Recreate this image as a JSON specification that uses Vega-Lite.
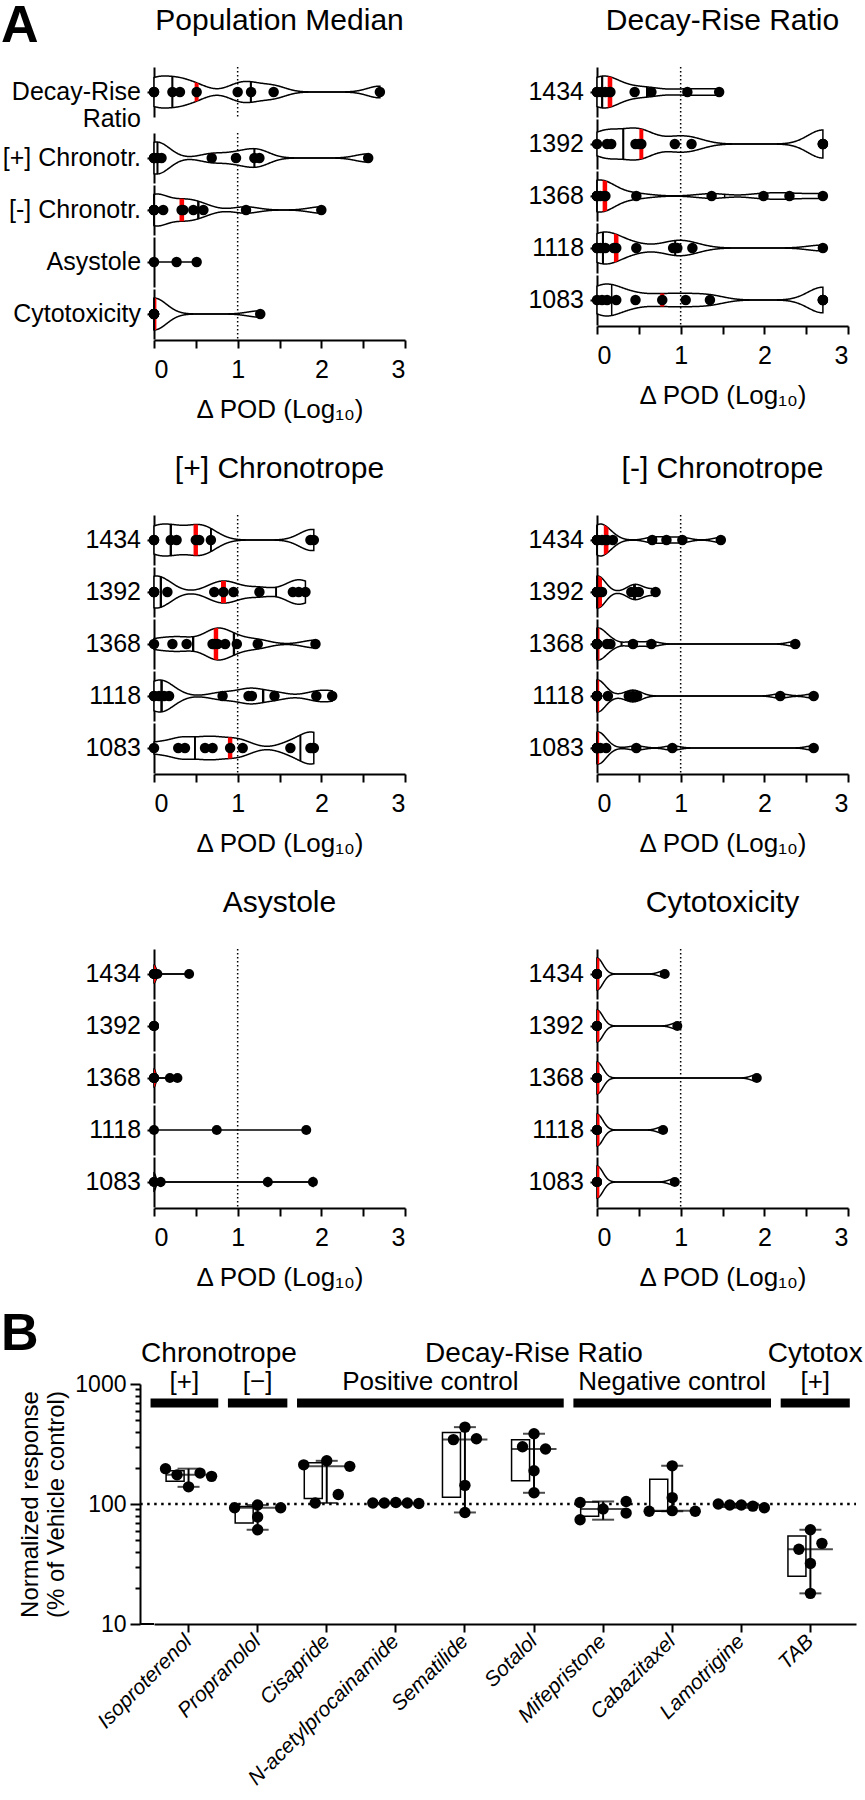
{
  "$schema": "https://vega.github.io/schema/vega-lite/v6.json",
  "padding": 0,
  "background": "white",
  "config": {
    "font": "Liberation Sans, Arial, sans-serif",
    "view": {"stroke": null},
    "axis": {"domainColor": "black", "domainWidth": 2, "tickColor": "black", "tickWidth": 2, "tickSize": 8, "labelColor": "black", "labelFontSize": 25, "titleColor": "black", "titleFontSize": 26, "titleFontWeight": "normal", "grid": false, "labelPadding": 9, "titlePadding": 14},
    "text": {"font": "Liberation Sans, Arial, sans-serif", "color": "black"}
  },
  "datasets": {
    "pm": [
      {"line": "Decay-Rise Ratio", "pod": 0}, {"line": "Decay-Rise Ratio", "pod": 0}, {"line": "Decay-Rise Ratio", "pod": 0.22}, {"line": "Decay-Rise Ratio", "pod": 0.31}, {"line": "Decay-Rise Ratio", "pod": 0.51}, {"line": "Decay-Rise Ratio", "pod": 1.0}, {"line": "Decay-Rise Ratio", "pod": 1.16}, {"line": "Decay-Rise Ratio", "pod": 1.43}, {"line": "Decay-Rise Ratio", "pod": 2.7},
      {"line": "[+] Chronotr.", "pod": 0}, {"line": "[+] Chronotr.", "pod": 0}, {"line": "[+] Chronotr.", "pod": 0.04}, {"line": "[+] Chronotr.", "pod": 0.09}, {"line": "[+] Chronotr.", "pod": 0.69}, {"line": "[+] Chronotr.", "pod": 0.98}, {"line": "[+] Chronotr.", "pod": 1.2}, {"line": "[+] Chronotr.", "pod": 1.26}, {"line": "[+] Chronotr.", "pod": 2.56},
      {"line": "[-] Chronotr.", "pod": 0}, {"line": "[-] Chronotr.", "pod": 0}, {"line": "[-] Chronotr.", "pod": 0}, {"line": "[-] Chronotr.", "pod": 0}, {"line": "[-] Chronotr.", "pod": 0.11}, {"line": "[-] Chronotr.", "pod": 0.33}, {"line": "[-] Chronotr.", "pod": 0.35}, {"line": "[-] Chronotr.", "pod": 0.47}, {"line": "[-] Chronotr.", "pod": 0.59}, {"line": "[-] Chronotr.", "pod": 1.1}, {"line": "[-] Chronotr.", "pod": 2.0},
      {"line": "Asystole", "pod": 0}, {"line": "Asystole", "pod": 0.27}, {"line": "Asystole", "pod": 0.51},
      {"line": "Cytotoxicity", "pod": 0}, {"line": "Cytotoxicity", "pod": 0}, {"line": "Cytotoxicity", "pod": 0}, {"line": "Cytotoxicity", "pod": 0}, {"line": "Cytotoxicity", "pod": 0}, {"line": "Cytotoxicity", "pod": 1.27}
    ],
    "dr": [
      {"line": "1434", "pod": 0}, {"line": "1434", "pod": 0}, {"line": "1434", "pod": 0.05}, {"line": "1434", "pod": 0.1}, {"line": "1434", "pod": 0.15}, {"line": "1434", "pod": 0.16}, {"line": "1434", "pod": 0.45}, {"line": "1434", "pod": 0.65}, {"line": "1434", "pod": 1.08}, {"line": "1434", "pod": 1.46},
      {"line": "1392", "pod": 0}, {"line": "1392", "pod": 0.12}, {"line": "1392", "pod": 0.17}, {"line": "1392", "pod": 0.46}, {"line": "1392", "pod": 0.5}, {"line": "1392", "pod": 0.53}, {"line": "1392", "pod": 0.93}, {"line": "1392", "pod": 1.13}, {"line": "1392", "pod": 2.7}, {"line": "1392", "pod": 2.7}, {"line": "1392", "pod": 2.7},
      {"line": "1368", "pod": 0}, {"line": "1368", "pod": 0}, {"line": "1368", "pod": 0}, {"line": "1368", "pod": 0}, {"line": "1368", "pod": 0.04}, {"line": "1368", "pod": 0.09}, {"line": "1368", "pod": 0.1}, {"line": "1368", "pod": 0.47}, {"line": "1368", "pod": 1.37}, {"line": "1368", "pod": 1.99}, {"line": "1368", "pod": 2.3}, {"line": "1368", "pod": 2.7},
      {"line": "1118", "pod": 0}, {"line": "1118", "pod": 0}, {"line": "1118", "pod": 0.04}, {"line": "1118", "pod": 0.1}, {"line": "1118", "pod": 0.2}, {"line": "1118", "pod": 0.23}, {"line": "1118", "pod": 0.47}, {"line": "1118", "pod": 0.91}, {"line": "1118", "pod": 0.96}, {"line": "1118", "pod": 1.14}, {"line": "1118", "pod": 2.7},
      {"line": "1083", "pod": 0}, {"line": "1083", "pod": 0.06}, {"line": "1083", "pod": 0.12}, {"line": "1083", "pod": 0.23}, {"line": "1083", "pod": 0.46}, {"line": "1083", "pod": 0.78}, {"line": "1083", "pod": 1.06}, {"line": "1083", "pod": 1.35}, {"line": "1083", "pod": 2.7}, {"line": "1083", "pod": 2.7}, {"line": "1083", "pod": 2.7}
    ],
    "pc": [
      {"line": "1434", "pod": 0}, {"line": "1434", "pod": 0}, {"line": "1434", "pod": 0.2}, {"line": "1434", "pod": 0.27}, {"line": "1434", "pod": 0.5}, {"line": "1434", "pod": 0.54}, {"line": "1434", "pod": 0.68}, {"line": "1434", "pod": 1.87}, {"line": "1434", "pod": 1.91},
      {"line": "1392", "pod": 0}, {"line": "1392", "pod": 0}, {"line": "1392", "pod": 0}, {"line": "1392", "pod": 0.16}, {"line": "1392", "pod": 0.72}, {"line": "1392", "pod": 0.83}, {"line": "1392", "pod": 0.95}, {"line": "1392", "pod": 1.26}, {"line": "1392", "pod": 1.66}, {"line": "1392", "pod": 1.73}, {"line": "1392", "pod": 1.81},
      {"line": "1368", "pod": 0}, {"line": "1368", "pod": 0.22}, {"line": "1368", "pod": 0.39}, {"line": "1368", "pod": 0.7}, {"line": "1368", "pod": 0.72}, {"line": "1368", "pod": 0.76}, {"line": "1368", "pod": 0.85}, {"line": "1368", "pod": 0.99}, {"line": "1368", "pod": 1.24}, {"line": "1368", "pod": 1.93},
      {"line": "1118", "pod": 0}, {"line": "1118", "pod": 0}, {"line": "1118", "pod": 0.06}, {"line": "1118", "pod": 0.12}, {"line": "1118", "pod": 0.18}, {"line": "1118", "pod": 0.82}, {"line": "1118", "pod": 1.13}, {"line": "1118", "pod": 1.17}, {"line": "1118", "pod": 1.44}, {"line": "1118", "pod": 1.94}, {"line": "1118", "pod": 2.13},
      {"line": "1083", "pod": 0}, {"line": "1083", "pod": 0.29}, {"line": "1083", "pod": 0.37}, {"line": "1083", "pod": 0.61}, {"line": "1083", "pod": 0.7}, {"line": "1083", "pod": 0.91}, {"line": "1083", "pod": 1.06}, {"line": "1083", "pod": 1.63}, {"line": "1083", "pod": 1.87}, {"line": "1083", "pod": 1.9}, {"line": "1083", "pod": 1.91}
    ],
    "nc": [
      {"line": "1434", "pod": 0}, {"line": "1434", "pod": 0}, {"line": "1434", "pod": 0}, {"line": "1434", "pod": 0}, {"line": "1434", "pod": 0.06}, {"line": "1434", "pod": 0.1}, {"line": "1434", "pod": 0.12}, {"line": "1434", "pod": 0.19}, {"line": "1434", "pod": 0.66}, {"line": "1434", "pod": 0.83}, {"line": "1434", "pod": 1.02}, {"line": "1434", "pod": 1.48},
      {"line": "1392", "pod": 0}, {"line": "1392", "pod": 0}, {"line": "1392", "pod": 0}, {"line": "1392", "pod": 0}, {"line": "1392", "pod": 0}, {"line": "1392", "pod": 0.06}, {"line": "1392", "pod": 0.41}, {"line": "1392", "pod": 0.46}, {"line": "1392", "pod": 0.5}, {"line": "1392", "pod": 0.7},
      {"line": "1368", "pod": 0}, {"line": "1368", "pod": 0}, {"line": "1368", "pod": 0}, {"line": "1368", "pod": 0}, {"line": "1368", "pod": 0}, {"line": "1368", "pod": 0}, {"line": "1368", "pod": 0.12}, {"line": "1368", "pod": 0.16}, {"line": "1368", "pod": 0.43}, {"line": "1368", "pod": 0.65}, {"line": "1368", "pod": 2.37},
      {"line": "1118", "pod": 0}, {"line": "1118", "pod": 0}, {"line": "1118", "pod": 0}, {"line": "1118", "pod": 0}, {"line": "1118", "pod": 0}, {"line": "1118", "pod": 0}, {"line": "1118", "pod": 0}, {"line": "1118", "pod": 0.13}, {"line": "1118", "pod": 0.38}, {"line": "1118", "pod": 0.43}, {"line": "1118", "pod": 0.48}, {"line": "1118", "pod": 2.19}, {"line": "1118", "pod": 2.59},
      {"line": "1083", "pod": 0}, {"line": "1083", "pod": 0}, {"line": "1083", "pod": 0}, {"line": "1083", "pod": 0}, {"line": "1083", "pod": 0}, {"line": "1083", "pod": 0}, {"line": "1083", "pod": 0.04}, {"line": "1083", "pod": 0.11}, {"line": "1083", "pod": 0.47}, {"line": "1083", "pod": 0.9}, {"line": "1083", "pod": 2.59}
    ],
    "as": [
      {"line": "1434", "pod": 0}, {"line": "1434", "pod": 0}, {"line": "1434", "pod": 0}, {"line": "1434", "pod": 0}, {"line": "1434", "pod": 0.04}, {"line": "1434", "pod": 0.42},
      {"line": "1392", "pod": 0}, {"line": "1392", "pod": 0}, {"line": "1392", "pod": 0}, {"line": "1392", "pod": 0},
      {"line": "1368", "pod": 0}, {"line": "1368", "pod": 0}, {"line": "1368", "pod": 0}, {"line": "1368", "pod": 0}, {"line": "1368", "pod": 0.19}, {"line": "1368", "pod": 0.28},
      {"line": "1118", "pod": 0}, {"line": "1118", "pod": 0.75}, {"line": "1118", "pod": 1.82},
      {"line": "1083", "pod": 0}, {"line": "1083", "pod": 0}, {"line": "1083", "pod": 0.08}, {"line": "1083", "pod": 1.36}, {"line": "1083", "pod": 1.9}
    ],
    "cy": [
      {"line": "1434", "pod": 0}, {"line": "1434", "pod": 0}, {"line": "1434", "pod": 0}, {"line": "1434", "pod": 0}, {"line": "1434", "pod": 0}, {"line": "1434", "pod": 0.81},
      {"line": "1392", "pod": 0}, {"line": "1392", "pod": 0}, {"line": "1392", "pod": 0}, {"line": "1392", "pod": 0}, {"line": "1392", "pod": 0}, {"line": "1392", "pod": 0.96},
      {"line": "1368", "pod": 0}, {"line": "1368", "pod": 0}, {"line": "1368", "pod": 0}, {"line": "1368", "pod": 0}, {"line": "1368", "pod": 0}, {"line": "1368", "pod": 1.91},
      {"line": "1118", "pod": 0}, {"line": "1118", "pod": 0}, {"line": "1118", "pod": 0}, {"line": "1118", "pod": 0}, {"line": "1118", "pod": 0}, {"line": "1118", "pod": 0.79},
      {"line": "1083", "pod": 0}, {"line": "1083", "pod": 0}, {"line": "1083", "pod": 0}, {"line": "1083", "pod": 0}, {"line": "1083", "pod": 0}, {"line": "1083", "pod": 0.93}
    ],
    "bstats": [
      {"drug": "Isoproterenol", "lo": 139, "q1": 154.5, "med": 175, "q3": 189, "hi": 197},
      {"drug": "Propranolol", "lo": 61, "q1": 69.5, "med": 93, "q3": 95.5, "hi": 98},
      {"drug": "Cisapride", "lo": 102, "q1": 111, "med": 206, "q3": 220.5, "hi": 229},
      {"drug": "N-acetylprocainamide", "lo": 101, "q1": 101.5, "med": 102, "q3": 102.5, "hi": 103},
      {"drug": "Sematilide", "lo": 85, "q1": 114, "med": 344, "q3": 393.5, "hi": 437},
      {"drug": "Sotalol", "lo": 124, "q1": 156.5, "med": 287, "q3": 342.5, "hi": 385},
      {"drug": "Mifepristone", "lo": 74, "q1": 79, "med": 91, "q3": 104, "hi": 105},
      {"drug": "Cabazitaxel", "lo": 87, "q1": 87, "med": 88, "q3": 160.5, "hi": 208},
      {"drug": "Lamotrigine", "lo": 93, "q1": 94.5, "med": 98, "q3": 99, "hi": 100},
      {"drug": "TAB", "lo": 18, "q1": 25, "med": 42, "q3": 54, "hi": 61}
    ],
    "bpts": [
      {"drug": "Isoproterenol", "slot": -2, "val": 197}, {"drug": "Isoproterenol", "slot": -1, "val": 175}, {"drug": "Isoproterenol", "slot": 1, "val": 181}, {"drug": "Isoproterenol", "slot": 2, "val": 170}, {"drug": "Isoproterenol", "slot": 0, "val": 139},
      {"drug": "Propranolol", "slot": -2, "val": 93}, {"drug": "Propranolol", "slot": 0, "val": 98}, {"drug": "Propranolol", "slot": 2, "val": 93}, {"drug": "Propranolol", "slot": 0, "val": 78}, {"drug": "Propranolol", "slot": 0, "val": 61},
      {"drug": "Cisapride", "slot": -2, "val": 212}, {"drug": "Cisapride", "slot": 0, "val": 229}, {"drug": "Cisapride", "slot": 2, "val": 206}, {"drug": "Cisapride", "slot": 1, "val": 120}, {"drug": "Cisapride", "slot": -1, "val": 102},
      {"drug": "N-acetylprocainamide", "slot": -2, "val": 102}, {"drug": "N-acetylprocainamide", "slot": -1, "val": 102}, {"drug": "N-acetylprocainamide", "slot": 0, "val": 103}, {"drug": "N-acetylprocainamide", "slot": 1, "val": 102}, {"drug": "N-acetylprocainamide", "slot": 2, "val": 101},
      {"drug": "Sematilide", "slot": 0, "val": 437}, {"drug": "Sematilide", "slot": -1, "val": 344}, {"drug": "Sematilide", "slot": 1, "val": 350}, {"drug": "Sematilide", "slot": 0, "val": 143}, {"drug": "Sematilide", "slot": 0, "val": 85},
      {"drug": "Sotalol", "slot": 0, "val": 385}, {"drug": "Sotalol", "slot": -1, "val": 300}, {"drug": "Sotalol", "slot": 1, "val": 287}, {"drug": "Sotalol", "slot": 0, "val": 189}, {"drug": "Sotalol", "slot": 0, "val": 124},
      {"drug": "Mifepristone", "slot": -2, "val": 103}, {"drug": "Mifepristone", "slot": -2, "val": 74}, {"drug": "Mifepristone", "slot": 0, "val": 91}, {"drug": "Mifepristone", "slot": 2, "val": 105}, {"drug": "Mifepristone", "slot": 2, "val": 84},
      {"drug": "Cabazitaxel", "slot": 0, "val": 208}, {"drug": "Cabazitaxel", "slot": 0, "val": 113}, {"drug": "Cabazitaxel", "slot": -2, "val": 87}, {"drug": "Cabazitaxel", "slot": 0, "val": 88}, {"drug": "Cabazitaxel", "slot": 2, "val": 87},
      {"drug": "Lamotrigine", "slot": -2, "val": 100}, {"drug": "Lamotrigine", "slot": -1, "val": 98}, {"drug": "Lamotrigine", "slot": 0, "val": 98}, {"drug": "Lamotrigine", "slot": 1, "val": 96}, {"drug": "Lamotrigine", "slot": 2, "val": 93},
      {"drug": "TAB", "slot": 0, "val": 61}, {"drug": "TAB", "slot": -1, "val": 42}, {"drug": "TAB", "slot": 1, "val": 47}, {"drug": "TAB", "slot": 0, "val": 32}, {"drug": "TAB", "slot": 0, "val": 18}
    ],
    "bgroups": [
      {"label": "[+]", "start": -0.05, "end": 0.93, "mid": 0.44},
      {"label": "[−]", "start": 1.07, "end": 1.93, "mid": 1.5},
      {"label": "Positive control", "start": 2.07, "end": 5.93, "mid": 4.0},
      {"label": "Negative control", "start": 6.07, "end": 8.93, "mid": 7.5},
      {"label": "[+]", "start": 9.07, "end": 10.07, "mid": 9.57}
    ],
    "bheads": [
      {"label": "Chronotrope", "mid": 0.94},
      {"label": "Decay-Rise Ratio", "mid": 5.5},
      {"label": "Cytotox", "mid": 9.57}
    ]
  },
  "spacing": 18,
  "vconcat": [
    {
      "spacing": 32,
      "vconcat": [
        {
          "spacing": 122,
          "hconcat": [
            {
              "data": {"name": "pm"},
              "spacing": 0,
              "facet": {"row": {"field": "line", "type": "nominal", "title": null, "sort": ["Decay-Rise Ratio", "[+] Chronotr.", "[-] Chronotr.", "Asystole", "Cytotoxicity"], "header": {"labels": false}}},
              "resolve": {"scale": {"y": "independent"}},
              "spec": {
                "width": 251, "height": 50,
                "resolve": {"scale": {"y": "independent"}},
                "layer": [
                  {"layer": [
                    {"transform": [{"aggregate": [{"op": "min", "field": "pod", "as": "lo"}, {"op": "max", "field": "pod", "as": "hi"}], "groupby": ["line"]}],
                     "mark": {"type": "rule", "color": "black", "strokeWidth": 1.5},
                     "encoding": {
                       "x": {"field": "lo", "type": "quantitative", "scale": {"domain": [0, 3], "nice": false}, "axis": {"values": [0, 0.5, 1, 1.5, 2, 2.5, 3], "labelExpr": "datum.value % 1 === 0 ? format(datum.value, 'd') : ''", "title": "Δ POD (Log₁₀)"}},
                       "x2": {"field": "hi"},
                       "y": {"datum": 0.5, "type": "quantitative", "scale": {"domain": [0, 1]}, "axis": {"values": [0.5], "labels": false, "title": null, "tickSize": 7, "orient": "left"}}}},
                    {"transform": [{"aggregate": [{"op": "count", "as": "n"}], "groupby": ["line"]}],
                     "mark": {"type": "text", "align": "right", "baseline": "middle", "fontSize": 25, "lineHeight": 27},
                     "encoding": {"x": {"datum": -0.155, "type": "quantitative"}, "y": {"datum": 0.5, "type": "quantitative"}, "text": {"condition": {"test": "datum.line === 'Decay-Rise Ratio'", "value": ["Decay-Rise", "Ratio"]}, "field": "line"}}},
                    {"transform": [{"aggregate": [{"op": "count", "as": "n"}], "groupby": ["line"]}, {"filter": "datum.line === 'Decay-Rise Ratio'"}],
                     "mark": {"type": "text", "text": "A", "fontSize": 52, "fontWeight": "bold", "align": "left", "baseline": "alphabetic"},
                     "encoding": {"x": {"datum": -1.83, "type": "quantitative"}, "y": {"datum": 1.5, "type": "quantitative"}}},
                    {"transform": [{"aggregate": [{"op": "count", "as": "n"}], "groupby": ["line"]}, {"filter": "datum.line === 'Decay-Rise Ratio'"}],
                     "mark": {"type": "text", "text": "Population Median", "fontSize": 30, "align": "center", "baseline": "alphabetic"},
                     "encoding": {"x": {"datum": 1.5, "type": "quantitative"}, "y": {"datum": 1.74, "type": "quantitative"}}}
                  ]},
                  {"transform": [
                     {"filter": "datum.line !== 'Asystole'"},
                     {"joinaggregate": [{"op": "median", "field": "pod", "as": "med"}, {"op": "q1", "field": "pod", "as": "lq"}, {"op": "q3", "field": "pod", "as": "uq"}], "groupby": ["line"]},
                     {"density": "pod", "groupby": ["line", "med", "lq", "uq"], "bandwidth": 0.15, "steps": 400, "as": ["v", "dens"]},
                     {"stack": "dens", "groupby": ["line", "v"], "offset": "center", "as": ["y0", "y1"]}],
                   "encoding": {
                     "x": {"field": "v", "type": "quantitative"},
                     "y": {"field": "y0", "type": "quantitative", "scale": {"zero": false, "nice": false, "range": [41, 9]}, "axis": null},
                     "y2": {"field": "y1"}},
                   "layer": [
                     {"mark": {"type": "area", "fill": "white", "stroke": "black", "strokeWidth": 1.5}},
                     {"transform": [{"filter": "abs(datum.v - datum.med) <= 0.03"}], "mark": {"type": "area", "fill": "#ff0000"}},
                     {"transform": [{"filter": "abs(datum.v - datum.lq) < 0.006 || abs(datum.v - datum.uq) < 0.006"}], "mark": {"type": "rule", "color": "black", "strokeWidth": 1.5}}
                   ]},
                  {"transform": [{"aggregate": [{"op": "count", "as": "n"}], "groupby": ["line"]}],
                   "mark": {"type": "rule", "color": "black", "strokeWidth": 1.5, "strokeDash": [1.5, 2.5]},
                   "encoding": {"x": {"datum": 1, "type": "quantitative"}}},
                  {"mark": {"type": "circle", "size": 110, "color": "black", "opacity": 1},
                   "encoding": {"x": {"field": "pod", "type": "quantitative"}}}
                ]
              }
            },
            {
              "data": {"name": "dr"},
              "spacing": 0,
              "facet": {"row": {"field": "line", "type": "nominal", "title": null, "sort": ["1434", "1392", "1368", "1118", "1083"], "header": {"labels": false}}},
              "resolve": {"scale": {"y": "independent"}},
              "spec": {
                "width": 251, "height": 50,
                "resolve": {"scale": {"y": "independent"}},
                "layer": [
                  {"layer": [
                    {"transform": [{"aggregate": [{"op": "min", "field": "pod", "as": "lo"}, {"op": "max", "field": "pod", "as": "hi"}], "groupby": ["line"]}],
                     "mark": {"type": "rule", "color": "black", "strokeWidth": 1.5},
                     "encoding": {
                       "x": {"field": "lo", "type": "quantitative", "scale": {"domain": [0, 3], "nice": false}, "axis": {"values": [0, 0.5, 1, 1.5, 2, 2.5, 3], "labelExpr": "datum.value % 1 === 0 ? format(datum.value, 'd') : ''", "title": "Δ POD (Log₁₀)"}},
                       "x2": {"field": "hi"},
                       "y": {"datum": 0.5, "type": "quantitative", "scale": {"domain": [0, 1]}, "axis": {"values": [0.5], "labels": false, "title": null, "tickSize": 7, "orient": "left"}}}},
                    {"transform": [{"aggregate": [{"op": "count", "as": "n"}], "groupby": ["line"]}],
                     "mark": {"type": "text", "align": "right", "baseline": "middle", "fontSize": 25},
                     "encoding": {"x": {"datum": -0.155, "type": "quantitative"}, "y": {"datum": 0.5, "type": "quantitative"}, "text": {"field": "line"}}},
                    {"transform": [{"aggregate": [{"op": "count", "as": "n"}], "groupby": ["line"]}, {"filter": "datum.line === '1434'"}],
                     "mark": {"type": "text", "text": "Decay-Rise Ratio", "fontSize": 30, "align": "center", "baseline": "alphabetic"},
                     "encoding": {"x": {"datum": 1.5, "type": "quantitative"}, "y": {"datum": 1.74, "type": "quantitative"}}}
                  ]},
                  {"transform": [
                     {"joinaggregate": [{"op": "median", "field": "pod", "as": "med"}, {"op": "q1", "field": "pod", "as": "lq"}, {"op": "q3", "field": "pod", "as": "uq"}], "groupby": ["line"]},
                     {"density": "pod", "groupby": ["line", "med", "lq", "uq"], "bandwidth": 0.18, "steps": 400, "as": ["v", "dens"]},
                     {"stack": "dens", "groupby": ["line", "v"], "offset": "center", "as": ["y0", "y1"]}],
                   "encoding": {
                     "x": {"field": "v", "type": "quantitative"},
                     "y": {"field": "y0", "type": "quantitative", "scale": {"zero": false, "nice": false, "range": [41, 9]}, "axis": null},
                     "y2": {"field": "y1"}},
                   "layer": [
                     {"mark": {"type": "area", "fill": "white", "stroke": "black", "strokeWidth": 1.5}},
                     {"transform": [{"filter": "abs(datum.v - datum.med) <= 0.03"}], "mark": {"type": "area", "fill": "#ff0000"}},
                     {"transform": [{"filter": "abs(datum.v - datum.lq) < 0.006 || abs(datum.v - datum.uq) < 0.006"}], "mark": {"type": "rule", "color": "black", "strokeWidth": 1.5}}
                   ]},
                  {"transform": [{"aggregate": [{"op": "count", "as": "n"}], "groupby": ["line"]}],
                   "mark": {"type": "rule", "color": "black", "strokeWidth": 1.5, "strokeDash": [1.5, 2.5]},
                   "encoding": {"x": {"datum": 1, "type": "quantitative"}}},
                  {"mark": {"type": "circle", "size": 110, "color": "black", "opacity": 1},
                   "encoding": {"x": {"field": "pod", "type": "quantitative"}}}
                ]
              }
            }
          ]
        },
        {
          "spacing": 122,
          "hconcat": [
            {
              "data": {"name": "pc"},
              "spacing": 0,
              "facet": {"row": {"field": "line", "type": "nominal", "title": null, "sort": ["1434", "1392", "1368", "1118", "1083"], "header": {"labels": false}}},
              "resolve": {"scale": {"y": "independent"}},
              "spec": {
                "width": 251, "height": 50,
                "resolve": {"scale": {"y": "independent"}},
                "layer": [
                  {"layer": [
                    {"transform": [{"aggregate": [{"op": "min", "field": "pod", "as": "lo"}, {"op": "max", "field": "pod", "as": "hi"}], "groupby": ["line"]}],
                     "mark": {"type": "rule", "color": "black", "strokeWidth": 1.5},
                     "encoding": {
                       "x": {"field": "lo", "type": "quantitative", "scale": {"domain": [0, 3], "nice": false}, "axis": {"values": [0, 0.5, 1, 1.5, 2, 2.5, 3], "labelExpr": "datum.value % 1 === 0 ? format(datum.value, 'd') : ''", "title": "Δ POD (Log₁₀)"}},
                       "x2": {"field": "hi"},
                       "y": {"datum": 0.5, "type": "quantitative", "scale": {"domain": [0, 1]}, "axis": {"values": [0.5], "labels": false, "title": null, "tickSize": 7, "orient": "left"}}}},
                    {"transform": [{"aggregate": [{"op": "count", "as": "n"}], "groupby": ["line"]}],
                     "mark": {"type": "text", "align": "right", "baseline": "middle", "fontSize": 25},
                     "encoding": {"x": {"datum": -0.155, "type": "quantitative"}, "y": {"datum": 0.5, "type": "quantitative"}, "text": {"field": "line"}}},
                    {"transform": [{"aggregate": [{"op": "count", "as": "n"}], "groupby": ["line"]}, {"filter": "datum.line === '1434'"}],
                     "mark": {"type": "text", "text": "[+] Chronotrope", "fontSize": 30, "align": "center", "baseline": "alphabetic"},
                     "encoding": {"x": {"datum": 1.5, "type": "quantitative"}, "y": {"datum": 1.74, "type": "quantitative"}}}
                  ]},
                  {"transform": [
                     {"joinaggregate": [{"op": "median", "field": "pod", "as": "med"}, {"op": "q1", "field": "pod", "as": "lq"}, {"op": "q3", "field": "pod", "as": "uq"}], "groupby": ["line"]},
                     {"density": "pod", "groupby": ["line", "med", "lq", "uq"], "bandwidth": 0.15, "steps": 400, "as": ["v", "dens"]},
                     {"stack": "dens", "groupby": ["line", "v"], "offset": "center", "as": ["y0", "y1"]}],
                   "encoding": {
                     "x": {"field": "v", "type": "quantitative"},
                     "y": {"field": "y0", "type": "quantitative", "scale": {"zero": false, "nice": false, "range": [41, 9]}, "axis": null},
                     "y2": {"field": "y1"}},
                   "layer": [
                     {"mark": {"type": "area", "fill": "white", "stroke": "black", "strokeWidth": 1.5}},
                     {"transform": [{"filter": "abs(datum.v - datum.med) <= 0.03"}], "mark": {"type": "area", "fill": "#ff0000"}},
                     {"transform": [{"filter": "abs(datum.v - datum.lq) < 0.006 || abs(datum.v - datum.uq) < 0.006"}], "mark": {"type": "rule", "color": "black", "strokeWidth": 1.5}}
                   ]},
                  {"transform": [{"aggregate": [{"op": "count", "as": "n"}], "groupby": ["line"]}],
                   "mark": {"type": "rule", "color": "black", "strokeWidth": 1.5, "strokeDash": [1.5, 2.5]},
                   "encoding": {"x": {"datum": 1, "type": "quantitative"}}},
                  {"mark": {"type": "circle", "size": 110, "color": "black", "opacity": 1},
                   "encoding": {"x": {"field": "pod", "type": "quantitative"}}}
                ]
              }
            },
            {
              "data": {"name": "nc"},
              "spacing": 0,
              "facet": {"row": {"field": "line", "type": "nominal", "title": null, "sort": ["1434", "1392", "1368", "1118", "1083"], "header": {"labels": false}}},
              "resolve": {"scale": {"y": "independent"}},
              "spec": {
                "width": 251, "height": 50,
                "resolve": {"scale": {"y": "independent"}},
                "layer": [
                  {"layer": [
                    {"transform": [{"aggregate": [{"op": "min", "field": "pod", "as": "lo"}, {"op": "max", "field": "pod", "as": "hi"}], "groupby": ["line"]}],
                     "mark": {"type": "rule", "color": "black", "strokeWidth": 1.5},
                     "encoding": {
                       "x": {"field": "lo", "type": "quantitative", "scale": {"domain": [0, 3], "nice": false}, "axis": {"values": [0, 0.5, 1, 1.5, 2, 2.5, 3], "labelExpr": "datum.value % 1 === 0 ? format(datum.value, 'd') : ''", "title": "Δ POD (Log₁₀)"}},
                       "x2": {"field": "hi"},
                       "y": {"datum": 0.5, "type": "quantitative", "scale": {"domain": [0, 1]}, "axis": {"values": [0.5], "labels": false, "title": null, "tickSize": 7, "orient": "left"}}}},
                    {"transform": [{"aggregate": [{"op": "count", "as": "n"}], "groupby": ["line"]}],
                     "mark": {"type": "text", "align": "right", "baseline": "middle", "fontSize": 25},
                     "encoding": {"x": {"datum": -0.155, "type": "quantitative"}, "y": {"datum": 0.5, "type": "quantitative"}, "text": {"field": "line"}}},
                    {"transform": [{"aggregate": [{"op": "count", "as": "n"}], "groupby": ["line"]}, {"filter": "datum.line === '1434'"}],
                     "mark": {"type": "text", "text": "[-] Chronotrope", "fontSize": 30, "align": "center", "baseline": "alphabetic"},
                     "encoding": {"x": {"datum": 1.5, "type": "quantitative"}, "y": {"datum": 1.74, "type": "quantitative"}}}
                  ]},
                  {"transform": [
                     {"joinaggregate": [{"op": "median", "field": "pod", "as": "med"}, {"op": "q1", "field": "pod", "as": "lq"}, {"op": "q3", "field": "pod", "as": "uq"}], "groupby": ["line"]},
                     {"density": "pod", "groupby": ["line", "med", "lq", "uq"], "bandwidth": 0.09, "steps": 400, "as": ["v", "dens"]},
                     {"stack": "dens", "groupby": ["line", "v"], "offset": "center", "as": ["y0", "y1"]}],
                   "encoding": {
                     "x": {"field": "v", "type": "quantitative"},
                     "y": {"field": "y0", "type": "quantitative", "scale": {"zero": false, "nice": false, "range": [41, 9]}, "axis": null},
                     "y2": {"field": "y1"}},
                   "layer": [
                     {"mark": {"type": "area", "fill": "white", "stroke": "black", "strokeWidth": 1.5}},
                     {"transform": [{"filter": "abs(datum.v - datum.med) <= 0.03"}], "mark": {"type": "area", "fill": "#ff0000"}},
                     {"transform": [{"filter": "abs(datum.v - datum.lq) < 0.006 || abs(datum.v - datum.uq) < 0.006"}], "mark": {"type": "rule", "color": "black", "strokeWidth": 1.5}}
                   ]},
                  {"transform": [{"aggregate": [{"op": "count", "as": "n"}], "groupby": ["line"]}],
                   "mark": {"type": "rule", "color": "black", "strokeWidth": 1.5, "strokeDash": [1.5, 2.5]},
                   "encoding": {"x": {"datum": 1, "type": "quantitative"}}},
                  {"mark": {"type": "circle", "size": 110, "color": "black", "opacity": 1},
                   "encoding": {"x": {"field": "pod", "type": "quantitative"}}}
                ]
              }
            }
          ]
        },
        {
          "spacing": 122,
          "hconcat": [
            {
              "data": {"name": "as"},
              "spacing": 0,
              "facet": {"row": {"field": "line", "type": "nominal", "title": null, "sort": ["1434", "1392", "1368", "1118", "1083"], "header": {"labels": false}}},
              "resolve": {"scale": {"y": "independent"}},
              "spec": {
                "width": 251, "height": 50,
                "resolve": {"scale": {"y": "independent"}},
                "layer": [
                  {"layer": [
                    {"transform": [{"aggregate": [{"op": "min", "field": "pod", "as": "lo"}, {"op": "max", "field": "pod", "as": "hi"}], "groupby": ["line"]}],
                     "mark": {"type": "rule", "color": "black", "strokeWidth": 1.5},
                     "encoding": {
                       "x": {"field": "lo", "type": "quantitative", "scale": {"domain": [0, 3], "nice": false}, "axis": {"values": [0, 0.5, 1, 1.5, 2, 2.5, 3], "labelExpr": "datum.value % 1 === 0 ? format(datum.value, 'd') : ''", "title": "Δ POD (Log₁₀)"}},
                       "x2": {"field": "hi"},
                       "y": {"datum": 0.5, "type": "quantitative", "scale": {"domain": [0, 1]}, "axis": {"values": [0.5], "labels": false, "title": null, "tickSize": 7, "orient": "left"}}}},
                    {"transform": [{"aggregate": [{"op": "count", "as": "n"}], "groupby": ["line"]}],
                     "mark": {"type": "text", "align": "right", "baseline": "middle", "fontSize": 25},
                     "encoding": {"x": {"datum": -0.155, "type": "quantitative"}, "y": {"datum": 0.5, "type": "quantitative"}, "text": {"field": "line"}}},
                    {"transform": [{"aggregate": [{"op": "count", "as": "n"}], "groupby": ["line"]}, {"filter": "datum.line === '1434'"}],
                     "mark": {"type": "text", "text": "Asystole", "fontSize": 30, "align": "center", "baseline": "alphabetic"},
                     "encoding": {"x": {"datum": 1.5, "type": "quantitative"}, "y": {"datum": 1.74, "type": "quantitative"}}}
                  ]},
                  {"transform": [
                     {"filter": "datum.line === '1434' || datum.line === '1368' || datum.line === '1083'"},
                     {"joinaggregate": [{"op": "median", "field": "pod", "as": "med"}], "groupby": ["line"]},
                     {"density": "pod", "groupby": ["line", "med"], "bandwidth": 0.02, "steps": 400, "as": ["v", "dens"]},
                     {"stack": "dens", "groupby": ["line", "v"], "offset": "center", "as": ["y0", "y1"]}],
                   "encoding": {
                     "x": {"field": "v", "type": "quantitative"},
                     "y": {"field": "y0", "type": "quantitative", "scale": {"zero": false, "nice": false, "range": [34, 16]}, "axis": null},
                     "y2": {"field": "y1"}},
                   "layer": [
                     {"mark": {"type": "area", "fill": "white", "stroke": "black", "strokeWidth": 1.5}},
                     {"transform": [{"filter": "abs(datum.v - datum.med) <= 0.03"}], "mark": {"type": "area", "fill": "#ff0000"}}
                   ]},
                  {"transform": [{"aggregate": [{"op": "count", "as": "n"}], "groupby": ["line"]}],
                   "mark": {"type": "rule", "color": "black", "strokeWidth": 1.5, "strokeDash": [1.5, 2.5]},
                   "encoding": {"x": {"datum": 1, "type": "quantitative"}}},
                  {"mark": {"type": "circle", "size": 100, "color": "black", "opacity": 1},
                   "encoding": {"x": {"field": "pod", "type": "quantitative"}}}
                ]
              }
            },
            {
              "data": {"name": "cy"},
              "spacing": 0,
              "facet": {"row": {"field": "line", "type": "nominal", "title": null, "sort": ["1434", "1392", "1368", "1118", "1083"], "header": {"labels": false}}},
              "resolve": {"scale": {"y": "independent"}},
              "spec": {
                "width": 251, "height": 50,
                "resolve": {"scale": {"y": "independent"}},
                "layer": [
                  {"layer": [
                    {"transform": [{"aggregate": [{"op": "min", "field": "pod", "as": "lo"}, {"op": "max", "field": "pod", "as": "hi"}], "groupby": ["line"]}],
                     "mark": {"type": "rule", "color": "black", "strokeWidth": 1.5},
                     "encoding": {
                       "x": {"field": "lo", "type": "quantitative", "scale": {"domain": [0, 3], "nice": false}, "axis": {"values": [0, 0.5, 1, 1.5, 2, 2.5, 3], "labelExpr": "datum.value % 1 === 0 ? format(datum.value, 'd') : ''", "title": "Δ POD (Log₁₀)"}},
                       "x2": {"field": "hi"},
                       "y": {"datum": 0.5, "type": "quantitative", "scale": {"domain": [0, 1]}, "axis": {"values": [0.5], "labels": false, "title": null, "tickSize": 7, "orient": "left"}}}},
                    {"transform": [{"aggregate": [{"op": "count", "as": "n"}], "groupby": ["line"]}],
                     "mark": {"type": "text", "align": "right", "baseline": "middle", "fontSize": 25},
                     "encoding": {"x": {"datum": -0.155, "type": "quantitative"}, "y": {"datum": 0.5, "type": "quantitative"}, "text": {"field": "line"}}},
                    {"transform": [{"aggregate": [{"op": "count", "as": "n"}], "groupby": ["line"]}, {"filter": "datum.line === '1434'"}],
                     "mark": {"type": "text", "text": "Cytotoxicity", "fontSize": 30, "align": "center", "baseline": "alphabetic"},
                     "encoding": {"x": {"datum": 1.5, "type": "quantitative"}, "y": {"datum": 1.74, "type": "quantitative"}}}
                  ]},
                  {"transform": [
                     {"joinaggregate": [{"op": "median", "field": "pod", "as": "med"}], "groupby": ["line"]},
                     {"density": "pod", "groupby": ["line", "med"], "bandwidth": 0.07, "steps": 400, "as": ["v", "dens"]},
                     {"stack": "dens", "groupby": ["line", "v"], "offset": "center", "as": ["y0", "y1"]}],
                   "encoding": {
                     "x": {"field": "v", "type": "quantitative"},
                     "y": {"field": "y0", "type": "quantitative", "scale": {"zero": false, "nice": false, "range": [41, 9]}, "axis": null},
                     "y2": {"field": "y1"}},
                   "layer": [
                     {"mark": {"type": "area", "fill": "white", "stroke": "black", "strokeWidth": 1.5}},
                     {"transform": [{"filter": "abs(datum.v - datum.med) <= 0.03"}], "mark": {"type": "area", "fill": "#ff0000"}}
                   ]},
                  {"transform": [{"aggregate": [{"op": "count", "as": "n"}], "groupby": ["line"]}],
                   "mark": {"type": "rule", "color": "black", "strokeWidth": 1.5, "strokeDash": [1.5, 2.5]},
                   "encoding": {"x": {"datum": 1, "type": "quantitative"}}},
                  {"mark": {"type": "circle", "size": 100, "color": "black", "opacity": 1},
                   "encoding": {"x": {"field": "pod", "type": "quantitative"}}}
                ]
              }
            }
          ]
        }
      ]
    },
    {
      "width": 702,
      "height": 240,
      "resolve": {"scale": {"x": "independent"}},
      "layer": [
        {
          "data": {"values": [{"ref": 100}]},
          "layer": [
            {"mark": {"type": "rule", "color": "black", "strokeWidth": 2.5, "strokeDash": [2.5, 4.5]},
             "encoding": {"x": {"datum": -0.2, "type": "quantitative", "scale": {"domain": [0, 10.16], "nice": false, "zero": false}, "axis": null}, "x2": {"datum": 10.16}, "y": {"field": "ref", "type": "quantitative", "scale": {"type": "log", "domain": [10, 1000]}, "axis": null}}},
            {"mark": {"type": "rule", "color": "black", "strokeWidth": 2},
             "encoding": {"x": {"datum": -0.2, "type": "quantitative", "scale": {"domain": [0, 10.16], "nice": false, "zero": false}, "axis": null}, "x2": {"datum": 0}, "y": {"datum": 10, "type": "quantitative", "scale": {"type": "log", "domain": [10, 1000]}, "axis": null}}}
          ]
        },
        {
          "resolve": {"axis": {"y": "independent"}},
          "layer": [
            {"data": {"name": "bstats"},
             "mark": {"type": "rule", "color": "black", "strokeWidth": 2},
             "encoding": {
               "x": {"field": "drug", "type": "nominal", "scale": {"domain": ["Isoproterenol", "Propranolol", "Cisapride", "N-acetylprocainamide", "Sematilide", "Sotalol", "Mifepristone", "Cabazitaxel", "Lamotrigine", "TAB"], "paddingInner": 0, "paddingOuter": 0.08, "align": 0}, "axis": {"title": null, "labelAngle": -45, "labelFontStyle": "italic", "labelFontSize": 21, "labelAlign": "right", "labelBaseline": "middle", "labelPadding": 6, "labelLimit": 400, "tickSize": 8}},
               "y": {"field": "lo", "type": "quantitative", "scale": {"type": "log", "domain": [10, 1000]}, "axis": {"values": [10, 100, 1000], "format": "d", "title": ["Normalized response", "(% of Vehicle control)"], "offset": 14, "tickSize": 10, "labelFontSize": 23, "titleFontSize": 24, "labelPadding": 4, "titlePadding": 6, "orient": "left"}},
               "y2": {"field": "hi"}}},
            {"data": {"name": "bstats"},
             "mark": {"type": "bar", "fill": "white", "stroke": "black", "strokeWidth": 1.5, "width": {"band": 0.65}},
             "encoding": {
               "x": {"field": "drug", "type": "nominal"},
               "y": {"field": "q1", "type": "quantitative", "scale": {"type": "log", "domain": [10, 1000]}, "axis": {"values": [20, 30, 40, 50, 60, 70, 80, 90, 200, 300, 400, 500, 600, 700, 800, 900], "labels": false, "title": null, "domain": false, "tickSize": 5, "offset": 14, "orient": "left"}},
               "y2": {"field": "q3"}}},
            {"data": {"name": "bstats"},
             "mark": {"type": "tick", "color": "black", "size": 45, "thickness": 2},
             "encoding": {"x": {"field": "drug", "type": "nominal"}, "y": {"field": "med", "type": "quantitative", "scale": {"type": "log", "domain": [10, 1000]}, "axis": null}}},
            {"data": {"name": "bstats"},
             "mark": {"type": "tick", "color": "black", "size": 22, "thickness": 2},
             "encoding": {"x": {"field": "drug", "type": "nominal"}, "y": {"field": "lo", "type": "quantitative", "scale": {"type": "log", "domain": [10, 1000]}, "axis": null}}},
            {"data": {"name": "bstats"},
             "mark": {"type": "tick", "color": "black", "size": 22, "thickness": 2},
             "encoding": {"x": {"field": "drug", "type": "nominal"}, "y": {"field": "hi", "type": "quantitative", "scale": {"type": "log", "domain": [10, 1000]}, "axis": null}}},
            {"data": {"name": "bpts"},
             "mark": {"type": "circle", "size": 130, "color": "black", "opacity": 1},
             "encoding": {
               "x": {"field": "drug", "type": "nominal"},
               "xOffset": {"field": "slot", "type": "nominal", "scale": {"domain": [-3, -2, -1, 0, 1, 2, 3], "paddingInner": 0, "paddingOuter": 0}},
               "y": {"field": "val", "type": "quantitative", "scale": {"type": "log", "domain": [10, 1000]}, "axis": null}}}
          ]
        },
        {
          "data": {"name": "bgroups"},
          "layer": [
            {"mark": {"type": "rule", "color": "black", "strokeWidth": 9, "strokeCap": "butt"},
             "encoding": {"x": {"field": "start", "type": "quantitative", "scale": {"domain": [0, 10.16], "nice": false, "zero": false}, "axis": null}, "x2": {"field": "end"}, "y": {"datum": 695, "type": "quantitative", "scale": {"type": "log", "domain": [10, 1000]}, "axis": null}}},
            {"mark": {"type": "text", "fontSize": 26, "align": "center", "baseline": "alphabetic"},
             "encoding": {"x": {"field": "mid", "type": "quantitative", "scale": {"domain": [0, 10.16], "nice": false, "zero": false}, "axis": null}, "y": {"datum": 891, "type": "quantitative", "scale": {"type": "log", "domain": [10, 1000]}, "axis": null}, "text": {"field": "label"}}}
          ]
        },
        {
          "data": {"name": "bheads"},
          "mark": {"type": "text", "fontSize": 28, "align": "center", "baseline": "alphabetic"},
          "encoding": {"x": {"field": "mid", "type": "quantitative", "scale": {"domain": [0, 10.16], "nice": false, "zero": false}, "axis": null}, "y": {"datum": 1525, "type": "quantitative", "scale": {"type": "log", "domain": [10, 1000]}, "axis": null}, "text": {"field": "label"}}
        },
        {
          "data": {"values": [{"panel": "B"}]},
          "mark": {"type": "text", "fontSize": 52, "fontWeight": "bold", "align": "left", "baseline": "alphabetic"},
          "encoding": {"x": {"datum": -2.214, "type": "quantitative", "scale": {"domain": [0, 10.16], "nice": false, "zero": false}, "axis": null}, "y": {"datum": 1920, "type": "quantitative", "scale": {"type": "log", "domain": [10, 1000]}, "axis": null}, "text": {"field": "panel"}}
        }
      ]
    }
  ]
}
